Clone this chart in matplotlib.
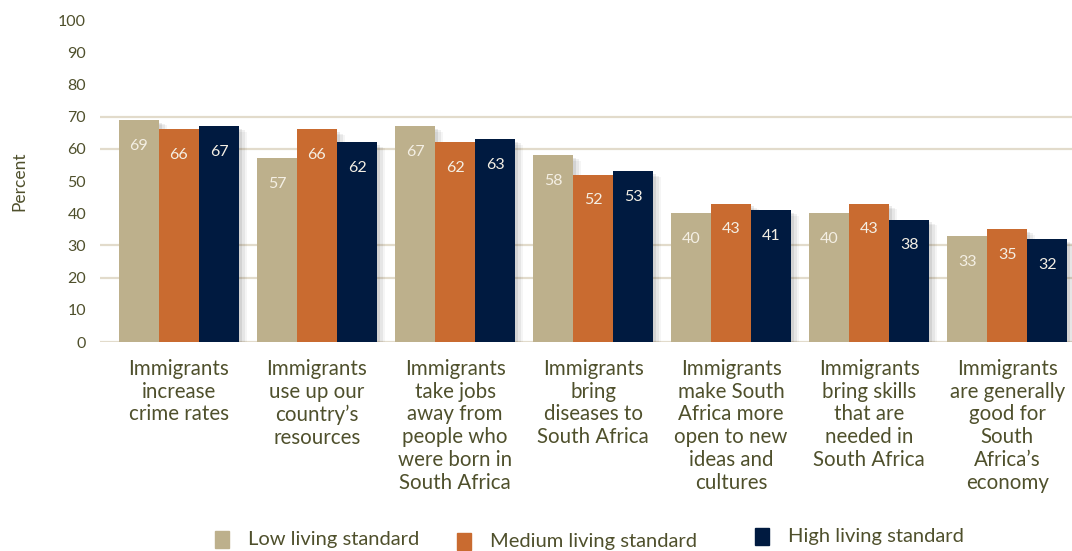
import matplotlib
matplotlib.use("Agg")
import numpy as np
import matplotlib.pyplot as plt
import matplotlib.patheffects as pe
from matplotlib.patches import Rectangle

plt.rcParams['font.family'] = ['Lato', 'DejaVu Sans']

# Data
categories = [
    "Immigrants\nincrease\ncrime rates",
    "Immigrants\nuse up our\ncountry\u2019s\nresources",
    "Immigrants\ntake jobs\naway from\npeople who\nwere born in\nSouth Africa",
    "Immigrants\nbring\ndiseases to\nSouth Africa",
    "Immigrants\nmake South\nAfrica more\nopen to new\nideas and\ncultures",
    "Immigrants\nbring skills\nthat are\nneeded in\nSouth Africa",
    "Immigrants\nare generally\ngood for\nSouth\nAfrica\u2019s\neconomy",
]
low = [69, 57, 67, 58, 40, 40, 33]
medium = [66, 66, 62, 52, 43, 43, 35]
high = [67, 62, 63, 53, 41, 38, 32]
series_names = ["Low living standard", "Medium living standard", "High living standard"]
colors = ["#BDB08C", "#C96B30", "#001A40"]
text_color = "#4F502C"
grid_color = "#E2DBCB"

fig = plt.figure(figsize=(10.72, 5.51), dpi=100)
ax = fig.add_axes([0.0933, 0.3793, 0.9067, 0.5844])

x = np.arange(len(categories))
w = 0.29
shadow = [
    pe.SimplePatchShadow(offset=(6, -4), shadow_rgbFace="#000000", alpha=0.04),
    pe.SimplePatchShadow(offset=(4, -3), shadow_rgbFace="#000000", alpha=0.06),
    pe.SimplePatchShadow(offset=(2, -2), shadow_rgbFace="#000000", alpha=0.08),
    pe.Normal(),
]

for i, (vals, col) in enumerate(zip([low, medium, high], colors)):
    bars = ax.bar(x + (i - 1) * w, vals, width=w, color=col, zorder=3,
                  path_effects=shadow)
    for b, v in zip(bars, vals):
        ax.text(b.get_x() + b.get_width() / 2, v - 8, str(v), ha="center",
                va="center", color="#F4EFE4", fontsize=11.5, zorder=4)

# gridlines as they appear in the reference
for g in [0, 20, 30, 60, 70]:
    ax.axhline(g, color=grid_color, lw=1.6, zorder=1)

ax.set_ylim(0, 100)
ax.set_xlim(-0.572, 6.47)
ax.set_yticks(range(0, 101, 10))
ax.tick_params(axis="y", length=0, pad=10, labelsize=11.5, labelcolor=text_color)
ax.set_xticks(x)
ax.set_xticklabels(categories, fontsize=14.8, color=text_color, linespacing=1.18)
ax.tick_params(axis="x", length=0, pad=12)
for s in ax.spines.values():
    s.set_visible(False)
ax.set_ylabel("Percent", fontsize=12.5, color=text_color, labelpad=22)

# legend entries
legend_pos = [(0.2005, 0.0210), (0.4263, 0.0175), (0.7043, 0.0265)]
for (lx, ly), name, col in zip(legend_pos, series_names, colors):
    fig.patches.append(Rectangle((lx, ly - 0.0155), 0.0135, 0.031, color=col,
                                 transform=fig.transFigure, figure=fig))
    fig.text(lx + 0.0308, ly, name, fontsize=14.5, color=text_color, va="center")

fig.savefig("out.png", dpi=100)
